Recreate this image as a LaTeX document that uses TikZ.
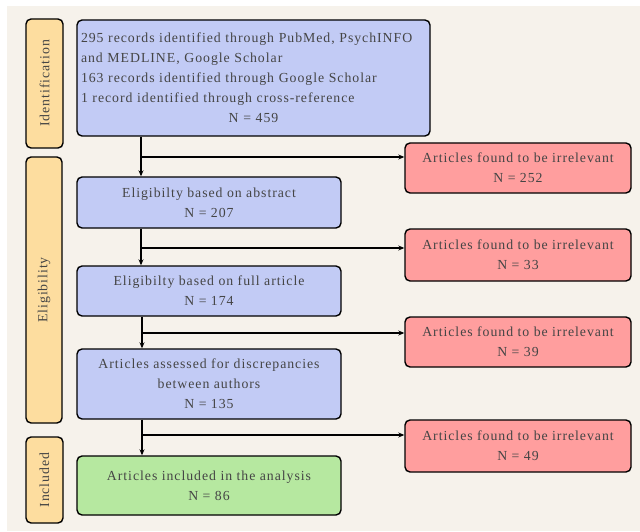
\documentclass[tikz,border=0pt]{standalone}
\usepackage{fontspec}
\setmainfont{Liberation Serif}[LetterSpace=7]
\usetikzlibrary{arrows.meta}
\definecolor{bgc}{HTML}{F6F2EB}
\definecolor{bluec}{HTML}{C2CBF5}
\definecolor{redc}{HTML}{FF9E9E}
\definecolor{greenc}{HTML}{B6E8A0}
\definecolor{orangec}{HTML}{FDDD9F}
\definecolor{txtc}{HTML}{454545}
\tikzset{
  box/.style={draw=black, line width=1.4pt, rounded corners=5pt, inner sep=0pt,
    align=center, text=txtc, font=\fontsize{13.8}{20}\selectfont},
  bluebox/.style={box, fill=bluec},
  redbox/.style={box, fill=redc, minimum width=226pt},
  greenbox/.style={box, fill=greenc},
  sidebox/.style={box, fill=orangec, rotate=90},
  conn/.style={line width=1.6pt, draw=black},
  arr/.style={conn, -{Stealth[length=6pt,width=5pt]}}
}
\begin{document}
\begin{tikzpicture}[x=1pt,y=-1pt]
\useasboundingbox (0,0) rectangle (640,532);
\fill[bgc] (7,6) rectangle (640,531);
% side labels
\node[sidebox, minimum width=129pt, minimum height=37pt] (sid) at (44.5,83.5) {Identification};
\node[sidebox, minimum width=266pt, minimum height=36pt] (sel) at (44,290) {Eligibility};
\node[sidebox, minimum width=86pt, minimum height=37pt] (sin) at (44.5,480) {Included};
% main boxes
\node[bluebox, minimum width=353pt, minimum height=116pt, text width=345pt, align=left] (top) at (253.5,78)
  {295 records identified through PubMed, PsychINFO\\ and MEDLINE, Google Scholar\\ 163 records identified through Google Scholar\\ 1 record identified through cross-reference\\ \makebox[\linewidth][c]{N = 459}};
\node[bluebox, minimum width=264pt, minimum height=51pt] (b2) at (209,202.5) {Eligibilty based on abstract\\ N = 207};
\node[bluebox, minimum width=264pt, minimum height=50pt] (b3) at (209,291) {Eligibilty based on full article\\ N = 174};
\node[bluebox, minimum width=264pt, minimum height=70pt] (b4) at (209,384) {Articles assessed for discrepancies\\ between authors\\ N = 135};
\node[greenbox, minimum width=264pt, minimum height=59pt] (b5) at (209,485.5) {Articles included in the analysis\\ N = 86};
% excluded boxes
\node[redbox, minimum height=50pt] (r1) at (518,168) {Articles found to be irrelevant\\ N = 252};
\node[redbox, minimum height=52pt] (r2) at (518,255) {Articles found to be irrelevant\\ N = 33};
\node[redbox, minimum height=50pt] (r3) at (518,342) {Articles found to be irrelevant\\ N = 39};
\node[redbox, minimum height=52pt] (r4) at (518,446) {Articles found to be irrelevant\\ N = 49};
% junctions
\coordinate (j1) at (141,157);
\coordinate (j2) at (141,248);
\coordinate (j3) at (142,333);
\coordinate (j4) at (142,435);
\draw[conn] (top.south -| j1) -- (j1);
\draw[arr] (j1) -- (b2.north -| j1);
\draw[arr] (j1) -- (j1 -| r1.west);
\draw[conn] (b2.south -| j2) -- (j2);
\draw[arr] (j2) -- (b3.north -| j2);
\draw[arr] (j2) -- (j2 -| r2.west);
\draw[conn] (b3.south -| j3) -- (j3);
\draw[arr] (j3) -- (b4.north -| j3);
\draw[arr] (j3) -- (j3 -| r3.west);
\draw[conn] (b4.south -| j4) -- (j4);
\draw[arr] (j4) -- (b5.north -| j4);
\draw[arr] (j4) -- (j4 -| r4.west);
\end{tikzpicture}
\end{document}
